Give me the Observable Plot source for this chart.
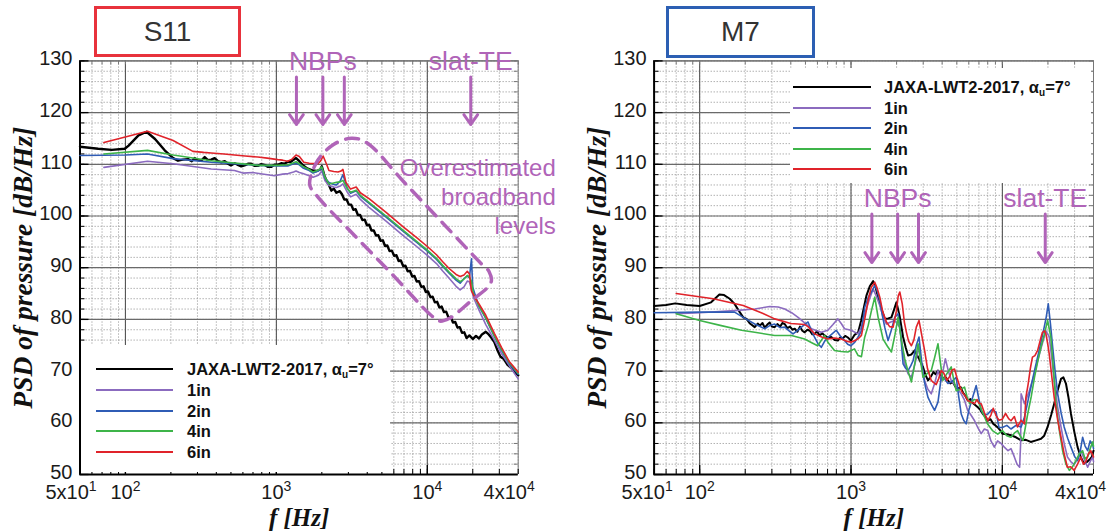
<!DOCTYPE html>
<html><head><meta charset="utf-8">
<script src="https://cdn.jsdelivr.net/npm/d3@7"></script>
<script src="https://cdn.jsdelivr.net/npm/@observablehq/plot@0.6"></script>
<style>
body{margin:0;background:#fff;font-family:"Liberation Sans",Arial,sans-serif;}
#root{position:relative;width:1111px;height:531px;overflow:hidden;background:#fff;}
.panel{position:absolute;top:0;}
.tbox{position:absolute;box-sizing:border-box;border:3px solid;background:#fff;display:flex;align-items:center;justify-content:center;font-size:28px;color:#333;}
.legend{position:absolute;background:#fff;}
.sw{position:absolute;height:2px;}
.lt{position:absolute;font-weight:bold;font-size:16.5px;line-height:20px;color:#111;white-space:nowrap;}
.lt sub{font-size:10px;vertical-align:-3px;line-height:0;}
</style></head><body><div id="root"></div>
<script>
// ---------- data ----------
const SERIES = ["JAXA-LWT2-2017", "1in", "2in", "4in", "6in"];
const COLORS = ["#000000", "#8b6bbf", "#2f5cb5", "#3db449", "#e0232a"];
const LEGEND_LABELS = ["JAXA-LWT2-2017, α<sub>u</sub>=7°", "1in", "2in", "4in", "6in"];
const PANEL_TITLES = ["S11", "M7"];
const X_DOMAIN = [50, 40000];
const Y_DOMAIN = [50, 130];
const Y_TICKS = [50, 60, 70, 80, 90, 100, 110, 120, 130];
const X_TICKS = [50, 100, 1000, 10000, 40000];
const X_TICK_LABELS = ["5x10^1", "10^2", "10^3", "10^4", "4x10^4"];
const Y_LABEL = "PSD of pressure [dB/Hz]";
const X_LABEL = "f [Hz]";

// S11 panel: [frequency Hz, PSD dB/Hz]
const S11_JAXA = [[50,113.4],[66,113.0],[81,112.8],[99,113.0],[105,113.6],[122,115.6],[138,116.3],[157,114.9],[182,112.7],[207,111.2],[223,110.7],[240,110.9],[260,111.0],[275,110.6],[288,111.2],[300,110.8],[318,110.7],[335,111.4],[352,110.8],[370,110.9],[390,111.2],[410,110.6],[432,110.4],[455,110.6],[478,110.1],[500,109.8],[530,110.2],[556,109.9],[585,109.6],[615,109.8],[648,110.1],[681,110.1],[715,109.7],[753,109.7],[790,110.0],[834,109.9],[880,109.5],[923,109.5],[970,109.9],[1021,109.9],[1075,110.2],[1130,110.1],[1190,110.5],[1250,110.5],[1300,110.9],[1350,111.2],[1420,110.6],[1500,109.8],[1600,109.2],[1745,108.8],[1850,108.7],[1950,109.0],[2000,109.6],[2080,107.8],[2150,106.8],[2230,106.0],[2311,104.9],[2400,105.3],[2500,104.5],[2630,104.8],[2720,104.2],[2818,103.2],[2920,103.2],[3020,102.2],[3130,102.2],[3236,101.2],[3350,101.3],[3467,100.2],[3590,100.2],[3715,99.2],[3850,99.3],[3981,98.2],[4120,98.3],[4266,97.2],[4420,97.2],[4571,96.2],[4730,96.3],[4898,95.2],[5070,95.3],[5248,94.2],[5430,94.3],[5623,93.2],[5820,93.3],[6026,92.3],[6240,92.4],[6457,91.3],[6680,91.4],[6918,90.3],[7160,90.4],[7413,89.3],[7670,89.4],[7943,88.3],[8220,88.4],[8511,87.3],[8810,87.4],[9120,86.3],[9440,86.4],[9772,85.3],[10110,85.4],[10471,84.3],[10840,84.4],[11220,83.3],[11610,83.4],[12023,82.3],[12440,82.5],[12882,81.4],[13330,81.5],[13804,80.4],[14290,80.5],[14791,79.4],[15310,79.5],[15849,78.4],[16400,78.5],[16982,77.4],[17580,77.5],[18197,76.4],[19000,76.9],[20000,76.2],[21000,76.8],[22000,76.3],[23000,77.1],[24400,77.6],[25500,77.1],[26500,76.5],[27800,75.6],[29000,74.2],[30500,72.8],[32000,72.4],[34000,71.2],[36000,70.6],[38000,69.8],[40000,69.2]];
const S11_1IN = [[72,109.4],[140,110.6],[207,110.1],[370,109.1],[528,108.8],[600,108.3],[700,108.4],[970,107.8],[1100,108.1],[1200,108.2],[1300,108.5],[1350,108.7],[1420,108.4],[1500,108.2],[1650,107.8],[1750,107.5],[1900,107.9],[2000,108.7],[2100,106.8],[2230,105.9],[2400,105.6],[2500,105.5],[2650,105.8],[2760,106.2],[2950,104.6],[3100,103.7],[3380,104.2],[3600,103.2],[4130,101.6],[5330,99.0],[6860,96.3],[8500,94.1],[10000,92.4],[11500,90.8],[12600,89.4],[14000,87.9],[15500,86.4],[16500,85.7],[17500,86.3],[18400,87.4],[19000,87.3],[19600,85.8],[20200,84.3],[22000,81.8],[24400,79.0],[27800,76.0],[31000,73.4],[35000,71.0],[40000,68.5]];
const S11_2IN = [[50,111.7],[100,111.8],[140,112.0],[207,111.1],[370,110.4],[753,109.8],[1021,109.7],[1200,109.7],[1300,110.1],[1350,110.2],[1420,109.9],[1500,109.3],[1650,108.8],[1750,108.3],[1900,108.7],[2000,109.3],[2100,107.3],[2230,106.5],[2400,106.1],[2500,106.0],[2650,106.8],[2760,108.0],[2950,105.4],[3100,104.4],[3380,104.9],[3600,103.8],[4130,102.4],[5330,99.8],[6860,97.1],[8500,94.9],[10000,93.2],[11500,91.6],[12600,90.3],[14000,88.9],[15500,87.6],[16500,87.0],[17500,87.9],[18400,88.4],[19000,88.0],[19600,91.7],[20000,86.2],[20600,85.0],[22000,82.5],[24400,80.2],[27800,76.7],[31000,74.0],[35000,71.4],[40000,69.4]];
const S11_4IN = [[72,112.0],[140,112.7],[207,111.8],[370,110.7],[753,109.8],[1021,109.8],[1200,109.9],[1300,110.3],[1350,110.5],[1420,110.1],[1500,109.6],[1650,109.0],[1750,108.5],[1900,108.9],[2000,109.5],[2100,107.5],[2230,106.2],[2400,106.4],[2500,106.5],[2650,106.6],[2760,106.9],[2950,105.3],[3100,104.6],[3380,105.0],[3600,104.0],[4130,102.6],[5330,100.0],[6860,97.3],[8500,95.1],[10000,93.4],[11500,91.8],[12600,90.5],[14000,89.1],[15500,87.9],[16500,87.3],[17500,87.8],[18400,88.5],[19000,88.2],[19600,87.4],[20200,85.0],[22000,82.6],[24400,80.3],[27800,76.8],[31000,74.2],[35000,71.6],[40000,69.6]];
const S11_6IN = [[72,114.2],[140,116.4],[207,114.6],[280,112.5],[330,112.3],[370,112.2],[450,112.0],[528,111.8],[620,111.6],[753,111.4],[870,111.2],[1021,110.9],[1100,110.8],[1188,110.6],[1270,111.0],[1350,111.8],[1420,111.5],[1520,110.4],[1650,110.2],[1880,110.1],[1960,110.6],[2040,111.6],[2150,110.0],[2230,108.8],[2400,108.6],[2560,108.5],[2680,108.7],[2760,109.0],[2890,106.5],[3100,105.2],[3380,105.6],[3600,104.5],[4130,103.3],[5330,100.7],[6860,98.0],[8500,95.8],[10000,94.1],[11500,92.5],[12600,91.2],[14000,89.8],[15500,88.7],[16500,88.3],[17500,88.6],[18400,89.3],[19000,88.8],[19600,85.5],[20900,84.0],[22000,83.0],[24400,80.8],[27800,77.3],[31000,74.6],[35000,71.8],[40000,69.8]];

// M7 panel: [frequency Hz, PSD dB/Hz]
const M7_JAXA = [[50,82.6],[60,82.8],[69,83.1],[82,82.8],[100,82.6],[119,83.3],[128,84.2],[135,84.8],[145,84.7],[158,84.0],[170,83.0],[184,81.4],[194,80.4],[204,80.1],[215,79.2],[231,78.5],[242,79.2],[250,78.8],[260,79.3],[269,78.4],[280,79.0],[290,79.4],[300,78.6],[313,78.5],[326,79.1],[340,78.6],[352,79.3],[365,79.1],[380,78.3],[395,78.6],[410,78.0],[425,78.2],[442,77.6],[460,78.6],[477,77.8],[494,77.5],[515,78.0],[535,77.8],[555,77.1],[575,77.2],[597,77.7],[620,76.9],[645,77.3],[669,76.9],[700,76.5],[740,76.6],[780,76.0],[818,75.9],[850,76.5],[880,76.3],[915,76.8],[953,76.5],[1000,75.9],[1054,77.0],[1115,77.5],[1167,79.8],[1210,82.0],[1264,84.6],[1330,86.4],[1400,87.4],[1450,86.3],[1510,84.3],[1590,82.0],[1670,80.1],[1760,80.2],[1849,80.4],[1920,81.8],[1995,83.3],[2100,80.5],[2208,76.6],[2300,74.5],[2382,73.0],[2500,73.2],[2633,74.0],[2800,72.5],[2990,70.8],[3100,69.3],[3226,68.2],[3380,69.0],[3500,69.8],[3620,69.4],[3754,70.1],[3900,69.2],[4050,68.6],[4200,68.9],[4367,68.2],[4530,67.6],[4700,67.9],[4890,67.0],[5083,66.6],[5300,66.9],[5500,65.8],[5700,65.2],[5914,64.3],[6150,64.6],[6400,63.8],[6640,63.4],[6883,63.0],[7150,62.5],[7400,61.8],[7700,61.2],[8010,60.4],[8350,60.7],[8700,59.8],[9000,59.5],[9323,59.1],[9650,58.6],[10000,57.9],[10700,57.8],[11400,57.6],[12300,57.2],[13300,56.6],[14300,56.7],[15400,56.3],[16700,56.6],[18000,56.9],[18900,57.5],[19900,59.2],[21000,61.5],[22000,63.7],[23200,66.3],[24400,68.5],[25300,68.8],[26300,67.6],[27300,65.0],[28400,61.7],[29900,58.2],[31400,55.3],[33000,53.3],[34700,52.1],[36500,52.5],[38000,53.0],[39000,53.4],[40000,54.6]];
const M7_1IN = [[70,81.1],[100,81.3],[170,81.7],[231,82.0],[290,82.5],[330,82.4],[365,82.0],[405,81.3],[447,80.4],[500,79.2],[547,78.2],[636,77.5],[703,77.9],[760,79.0],[818,80.1],[866,79.1],[906,78.2],[1000,77.9],[1115,77.2],[1170,78.5],[1233,81.1],[1320,83.8],[1400,85.9],[1470,84.5],[1549,82.7],[1630,80.5],[1714,79.1],[1830,79.5],[1945,79.8],[2100,78.5],[2180,75.0],[2264,71.4],[2380,69.5],[2506,68.8],[2650,71.5],[2813,74.7],[2930,71.0],[3063,68.2],[3220,66.5],[3389,65.6],[3560,67.5],[3754,70.1],[3945,68.2],[4200,72.4],[4400,70.0],[4592,68.2],[4950,67.0],[5346,65.6],[5600,64.5],[5900,62.4],[6200,61.5],[6550,60.4],[6900,59.0],[7244,57.9],[7600,58.8],[8010,58.5],[8400,56.5],[8850,55.3],[9300,56.5],[9800,56.0],[10300,55.3],[10900,54.6],[11400,55.0],[12000,53.4],[12500,52.0],[13000,51.4],[13200,56.0],[13300,65.6],[14000,63.7],[15000,66.0],[16300,69.5],[17100,72.0],[18000,74.4],[19400,77.8],[20400,76.6],[21200,72.5],[22000,68.2],[23200,63.0],[24400,59.2],[25600,56.0],[26900,53.4],[28300,52.5],[29800,51.9],[31400,53.0],[33000,54.6],[34700,53.0],[36600,51.4],[38000,52.5],[39500,53.4],[40000,52.5]];
const M7_2IN = [[50,81.3],[100,81.4],[170,81.4],[194,80.4],[231,79.1],[269,78.2],[290,78.8],[313,79.1],[340,78.4],[365,78.5],[390,77.8],[414,77.2],[440,77.8],[470,78.5],[520,79.5],[545,78.0],[575,76.5],[605,75.3],[636,74.6],[670,75.8],[703,76.5],[750,77.2],[798,77.9],[850,76.8],[906,75.9],[950,75.2],[1000,74.9],[1060,75.6],[1109,76.5],[1172,77.8],[1233,82.4],[1300,84.3],[1365,85.3],[1435,86.6],[1490,85.5],[1549,83.7],[1610,80.8],[1670,78.5],[1757,75.9],[1850,78.0],[1945,80.4],[2046,81.1],[2130,77.0],[2208,71.4],[2290,70.6],[2382,70.1],[2480,71.0],[2571,72.0],[2700,75.0],[2813,76.6],[2900,73.0],[2990,69.5],[3100,67.0],[3226,64.9],[3400,63.5],[3565,62.4],[3754,64.0],[3945,68.8],[4150,68.5],[4367,67.6],[4650,68.0],[4955,68.8],[5150,65.0],[5346,61.7],[5550,60.5],[5765,59.8],[6000,62.4],[6300,64.5],[6714,67.2],[6950,65.0],[7244,62.4],[7600,61.5],[8010,61.7],[8500,62.5],[9078,62.1],[9500,59.1],[10000,59.1],[10700,59.5],[11400,58.8],[12300,59.5],[13300,59.2],[14000,61.1],[15100,65.6],[16300,70.1],[17500,74.0],[18900,78.5],[19500,80.5],[20100,83.0],[20800,79.0],[21500,74.6],[22300,70.0],[23200,65.6],[24400,62.0],[25600,59.2],[27000,57.0],[28400,55.3],[30000,53.5],[31400,52.7],[32700,54.5],[33900,57.2],[35200,55.5],[36600,54.6],[38000,56.5],[39500,55.9],[40000,55.0]];
const M7_4IN = [[70,81.1],[100,79.8],[139,78.8],[189,77.9],[231,77.5],[313,76.9],[404,76.9],[494,76.2],[550,75.5],[602,74.9],[669,76.9],[703,75.6],[778,74.0],[860,73.8],[953,73.7],[1054,74.3],[1115,73.0],[1172,72.8],[1230,76.5],[1298,78.8],[1360,81.5],[1435,84.3],[1510,80.4],[1628,76.2],[1740,74.8],[1849,73.7],[1950,77.0],[2046,80.4],[2150,76.0],[2264,72.4],[2380,70.0],[2506,67.9],[2640,71.5],[2772,75.3],[2880,72.0],[2990,68.8],[3180,69.5],[3389,70.1],[3560,72.5],[3754,75.3],[3900,71.5],[4045,68.2],[4300,69.5],[4592,70.8],[4760,68.5],[4955,66.2],[5300,66.5],[5623,66.9],[5850,65.0],[6100,63.7],[6500,64.5],[6883,64.3],[7400,62.0],[8010,59.7],[8600,58.5],[9323,57.8],[10000,58.5],[10700,57.5],[11400,57.2],[12000,58.0],[12600,58.5],[13100,57.5],[13700,56.6],[14700,61.7],[15500,65.0],[16300,68.8],[17100,71.8],[18000,74.7],[18900,77.0],[19900,79.8],[20900,76.6],[21800,70.0],[22600,63.7],[23800,58.5],[25000,54.6],[26300,52.0],[27700,50.8],[29100,51.5],[30600,52.7],[32200,54.0],[33900,54.6],[35200,53.0],[36600,53.4],[38000,55.0],[39500,56.3],[40000,55.5]];
const M7_6IN = [[70,85.0],[123,84.0],[194,82.7],[260,81.2],[313,80.1],[400,79.2],[494,79.0],[520,78.6],[575,77.2],[640,76.6],[703,76.2],[780,76.4],[861,76.2],[930,75.8],[1000,75.6],[1060,75.9],[1120,76.3],[1172,76.9],[1240,80.5],[1298,83.7],[1360,86.2],[1435,87.2],[1490,86.0],[1549,84.3],[1620,81.5],[1714,79.5],[1800,78.6],[1897,78.5],[1990,81.5],[2050,84.5],[2100,85.3],[2180,83.0],[2250,79.5],[2323,77.5],[2400,75.8],[2506,74.9],[2600,76.0],[2700,78.5],[2813,79.8],[2930,77.0],[3063,74.0],[3200,70.5],[3389,68.2],[3500,67.8],[3656,67.4],[3800,68.6],[3945,70.1],[4100,69.6],[4300,68.2],[4500,69.0],[4650,70.2],[4829,70.4],[5000,68.8],[5208,67.2],[5400,66.0],[5650,65.3],[5914,64.3],[6200,64.0],[6550,63.7],[6800,64.5],[7000,63.8],[7244,63.7],[7600,62.0],[8010,60.4],[8400,61.5],[8700,62.8],[9078,61.4],[9500,60.5],[10000,60.7],[10500,61.8],[11000,60.8],[11400,60.4],[12000,61.2],[12600,59.2],[13300,60.5],[14000,59.8],[14300,64.9],[14800,67.5],[15300,70.5],[15800,72.7],[16400,73.0],[17100,74.0],[17800,76.0],[18400,77.5],[19000,77.8],[19400,77.2],[20000,75.0],[20400,73.3],[21200,69.0],[22000,64.9],[23200,60.5],[24400,57.2],[25600,54.0],[26900,51.4],[28300,51.5],[29800,50.8],[31400,52.0],[33000,53.4],[34300,52.0],[35600,52.5],[37000,54.0],[38400,54.6],[40000,53.4]];

// annotations (frequency Hz, dB)
const S11_ARROW_F = [1358, 2032, 2819, 19400];
const S11_ARROW_DB = [126.9, 117.7];
const S11_LABELS = [["NBPs", 2032, 129.8], ["slat-TE", 19400, 129.8]];
const S11_NOTE = [["Overestimated", 71000, 109.3], ["broadband", 71000, 103.6], ["levels", 71000, 98.0]];
const S11_OUTLINE = [[3146,115.05],[3951,114.22],[7072,106.42],[12680,98.61],[22690,90.81],[25630,89.27],[26420,87.14],[18910,83.27],[13950,80.17],[11990,79.69],[10450,80.95],[5867,88.68],[3293,96.23],[1848,103.97],[1662,106.09],[1877,110.73],[2393,113.83]];
const M7_ARROW_F = [1373, 2033, 2792, 19200];
const M7_ARROW_DB = [100.4, 91.0];
const M7_LABELS = [["NBPs", 2033, 103.3], ["slat-TE", 19200, 103.3]];

// ---------- drawing ----------
const H = 531, MT = 60.4, MB = 57;
const PURPLE = "#b064b8";
const root = document.getElementById("root");

function rowsOf(seriesList) {
  const rows = [];
  seriesList.forEach((pairs, i) => pairs.forEach(([f, db]) => rows.push({f, db, s: SERIES[i]})));
  return rows;
}

function makePanel(cfg) {
  const innerW = cfg.width - cfg.ml - cfg.mr;
  const innerH = H - MT - MB;
  const xMinor = d3.scaleLog().domain(X_DOMAIN).ticks();
  const xMajor = xMinor.filter(v => Math.abs(Math.log10(v) - Math.round(Math.log10(v))) < 1e-9);
  const yMinor = d3.range(Y_DOMAIN[0], Y_DOMAIN[1] + 1, 2);
  const lab = v => X_TICK_LABELS[X_TICKS.indexOf(v)];
  const rows = rowsOf(cfg.series);
  const last = X_TICKS.length - 1;
  const tickText = {frameAnchor: "bottom", lineAnchor: "top", dy: 10, fontSize: 20, fontFamily: "Liberation Sans", fill: "#1a1a1a", text: lab};
  const marks = [
    Plot.ruleX(xMinor, {stroke: "#8f8f8f", strokeWidth: 0.8, strokeDasharray: "1.3,1.7"}),
    Plot.ruleY(yMinor, {stroke: "#8f8f8f", strokeWidth: 0.8, strokeDasharray: "1.3,1.7"}),
    Plot.ruleX(xMajor, {stroke: "#555", strokeWidth: 1.1}),
    Plot.ruleY(Y_TICKS, {stroke: "#6a6a6a", strokeWidth: 1.2}),
    Plot.ruleY([Y_DOMAIN[1]], {stroke: "#777", strokeWidth: 1}),
    Plot.ruleX([X_DOMAIN[1]], {stroke: "#777", strokeWidth: 1}),
    Plot.tickY(yMinor, {y: d => d, insetRight: innerW - 5, stroke: "#000"}),
    Plot.tickY(Y_TICKS, {y: d => d, insetRight: innerW - 9, stroke: "#000", strokeWidth: 1.3}),
    Plot.tickY(yMinor, {y: d => d, insetLeft: innerW - 4, stroke: "#777"}),
    Plot.tickX(xMinor, {x: d => d, insetTop: innerH - 5, stroke: "#000"}),
    Plot.tickX(xMajor, {x: d => d, insetTop: innerH - 9, stroke: "#000", strokeWidth: 1.3}),
    Plot.tickX(xMinor, {x: d => d, insetBottom: innerH - 4, stroke: "#777"}),
    Plot.ruleX([X_DOMAIN[0]], {stroke: "#000", strokeWidth: 2}),
    Plot.ruleY([Y_DOMAIN[0]], {stroke: "#000", strokeWidth: 2}),
    Plot.axisY(Y_TICKS, {tickSize: 0, tickPadding: 7.5, label: null, fontSize: 20, fontFamily: "Liberation Sans", dy: -2}),
    Plot.text(X_TICKS.slice(1, last), {x: d => d, ...tickText}),
    Plot.text([X_TICKS[0]], {x: d => d, dx: cfg.edgeDx[0], ...tickText}),
    Plot.text([X_TICKS[last]], {x: d => d, dx: cfg.edgeDx[1], ...tickText}),
    Plot.text([Y_LABEL], {text: d => d, frameAnchor: "left", textAnchor: "middle", lineAnchor: "middle", dx: -57, rotate: -90, fontFamily: "Liberation Serif", fontWeight: "bold", fontStyle: "italic", fontSize: 27.5, fill: "#111"}),
    Plot.text([X_LABEL], {text: d => d, frameAnchor: "bottom", textAnchor: "middle", lineAnchor: "middle", dy: 43, fontFamily: "Liberation Serif", fontWeight: "bold", fontStyle: "italic", fontSize: 25, fill: "#111"}),
    ...SERIES.map((s, i) => Plot.line(rows.filter(r => r.s === s), {x: "f", y: "db", stroke: COLORS[i], strokeWidth: i === 0 ? cfg.blackWidth : 1.6, strokeLinejoin: "round"})),
    Plot.arrow(cfg.arrowF, {x: d => d, y1: cfg.arrowDb[0], y2: cfg.arrowDb[1], stroke: PURPLE, strokeWidth: 3, headLength: 6, headAngle: 70}),
    Plot.text(cfg.labels, {x: d => d[1], y: d => d[2], text: d => d[0], fill: PURPLE, fontSize: 26.5, fontFamily: "Liberation Sans"})
  ];
  if (cfg.outline) {
    marks.push(Plot.line(cfg.outline, {x: d => d[0], y: d => d[1], curve: "catmull-rom-closed", stroke: PURPLE, strokeWidth: 3.5, strokeDasharray: "13,9"}));
  }
  if (cfg.note) {
    marks.push(Plot.text(cfg.note, {x: d => d[1], y: d => d[2], text: d => d[0], textAnchor: "end", fill: PURPLE, fontSize: 24, fontFamily: "Liberation Sans"}));
  }
  const svg = Plot.plot({
    width: cfg.width, height: H,
    marginLeft: cfg.ml, marginRight: cfg.mr, marginTop: MT, marginBottom: MB,
    x: {type: "log", domain: X_DOMAIN, axis: null},
    y: {domain: Y_DOMAIN},
    style: {background: "transparent", color: "#1a1a1a", overflow: "visible", fontFamily: "Liberation Sans"},
    marks
  });
  // superscripts in x tick labels (exponent written after "^")
  d3.select(svg).selectAll("text").each(function () {
    const t = this.textContent;
    if (!t.includes("^") || this.querySelector("tspan")) return;
    const [base, exp] = t.split("^");
    const sel = d3.select(this);
    sel.text(null);
    sel.append("tspan").text(base);
    sel.append("tspan").attr("dy", -8).attr("font-size", 14).text(exp);
  });
  const wrap = document.createElement("div");
  wrap.className = "panel";
  wrap.style.left = cfg.left + "px";
  wrap.appendChild(svg);
  root.appendChild(wrap);
}

function makeTitle(text, x, y, w, h, color) {
  const d = document.createElement("div");
  d.className = "tbox";
  Object.assign(d.style, {left: x + "px", top: y + "px", width: w + "px", height: h + "px", borderColor: color});
  d.textContent = text;
  root.appendChild(d);
}

function makeLegend(c) {
  const box = document.createElement("div");
  box.className = "legend";
  Object.assign(box.style, {left: c.x + "px", top: c.y + "px", width: c.w + "px", height: c.h + "px"});
  SERIES.forEach((s, i) => {
    const cy = c.row0 + i * c.step - c.y;
    const sw = document.createElement("div");
    sw.className = "sw";
    Object.assign(sw.style, {left: (c.sx0 - c.x) + "px", width: (c.sx1 - c.sx0) + "px", top: (cy - 1) + "px", background: COLORS[i]});
    const lt = document.createElement("div");
    lt.className = "lt";
    Object.assign(lt.style, {left: (c.tx - c.x) + "px", top: (cy - 10) + "px"});
    lt.innerHTML = LEGEND_LABELS[i];
    box.appendChild(sw); box.appendChild(lt);
  });
  root.appendChild(box);
}

makePanel({left: 0, width: 560, ml: 79.5, mr: 42.3, blackWidth: 2.4, edgeDx: [-9, -9],
  series: [S11_JAXA, S11_1IN, S11_2IN, S11_4IN, S11_6IN],
  arrowF: S11_ARROW_F, arrowDb: S11_ARROW_DB, labels: S11_LABELS, note: S11_NOTE, outline: S11_OUTLINE});
makePanel({left: 560, width: 551, ml: 93.6, mr: 18, blackWidth: 2, edgeDx: [-7, -13],
  series: [M7_JAXA, M7_1IN, M7_2IN, M7_4IN, M7_6IN],
  arrowF: M7_ARROW_F, arrowDb: M7_ARROW_DB, labels: M7_LABELS});

makeTitle(PANEL_TITLES[0], 94, 6, 147, 51, "#e8323c");
makeTitle(PANEL_TITLES[1], 666, 6, 149, 52, "#2c5fb3");
makeLegend({x: 81, y: 345, w: 309, h: 127, row0: 369.3, step: 20.6, sx0: 96, sx1: 173, tx: 187});
makeLegend({x: 790, y: 68, w: 301, h: 115, row0: 87.3, step: 20.5, sx0: 793, sx1: 871, tx: 884});
</script></body></html>
